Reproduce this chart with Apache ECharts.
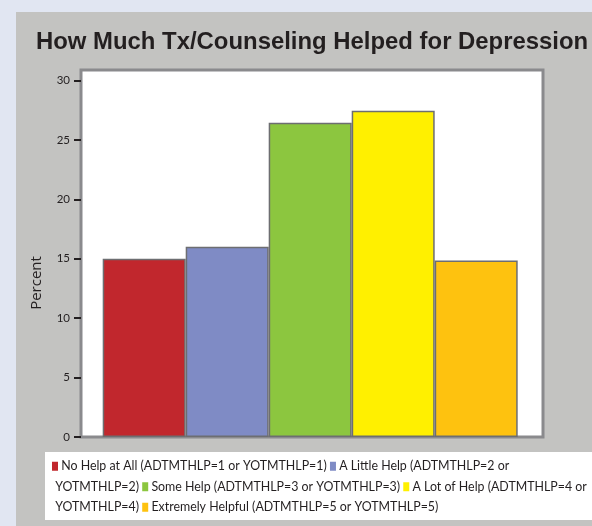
<!DOCTYPE html>
<html>
<head>
<meta charset="utf-8">
<script src="https://cdn.jsdelivr.net/npm/echarts@6/dist/echarts.min.js"></script>
<style>
html,body{margin:0;padding:0;background:#e1e6f2;}
#chart{width:592px;height:526px;}
</style>
</head>
<body>
<div id="chart"></div>
<script>
// ---- data ----
const titleText = "How Much Tx/Counseling Helped for Depression";
const yAxisName = "Percent";
const categories = [
  "No Help at All (ADTMTHLP=1 or YOTMTHLP=1)",
  "A Little Help (ADTMTHLP=2 or YOTMTHLP=2)",
  "Some Help (ADTMTHLP=3 or YOTMTHLP=3)",
  "A Lot of Help (ADTMTHLP=4 or YOTMTHLP=4)",
  "Extremely Helpful (ADTMTHLP=5 or YOTMTHLP=5)"
];
const percents = [15.0, 16.0, 26.45, 27.45, 14.85];
const yTicks = [0, 5, 10, 15, 20, 25, 30];
const barColors = ["#c1272d", "#7f8bc5", "#8cc63f", "#fff000", "#fec20f"];

// ---- chart ----
const chart = echarts.init(document.getElementById('chart'), null, {renderer: 'canvas'});

const FONT = "Lato";
const LEG_SIZE = 12.4;
const LEG_WIDTH = 540;
const MARK_W = 6;

// flow-wrap legend entries like an inline paragraph
const ctx = document.createElement('canvas').getContext('2d');
ctx.font = LEG_SIZE + 'px ' + FONT;
const rich = {t: {fontSize: LEG_SIZE, fontFamily: FONT, color: '#231f20', lineHeight: 20.5}};
const lines = [[]];
let cur = 0;
function pushText(s) {
  const line = lines[lines.length - 1];
  const last = line[line.length - 1];
  if (last && last.type === 't') last.s += s; else line.push({type: 't', s: s});
}
categories.forEach((c, i) => {
  rich['m' + i] = {width: MARK_W, height: 9, backgroundColor: barColors[i]};
  const words = c.split(' ');
  const firstW = MARK_W + ctx.measureText(' ' + words[0]).width;
  if (cur > 0 && cur + firstW > LEG_WIDTH) { lines.push([]); cur = 0; }
  lines[lines.length - 1].push({type: 'm', i: i});
  pushText(' ' + words[0]);
  cur += firstW;
  for (let k = 1; k < words.length; k++) {
    const w = ctx.measureText(' ' + words[k]).width;
    if (cur + w > LEG_WIDTH) { lines.push([]); cur = 0; }
    pushText(' ' + words[k]);
    cur += w;
  }
  pushText(' ');
  cur += ctx.measureText(' ').width;
});
const legendStr = lines.map(line => line.map(tk =>
  tk.type === 'm' ? '{m' + tk.i + '|}' : '{t|' + tk.s + '}'
).join('')).join('\n');

const option = {
  backgroundColor: '#e1e6f2',
  animation: false,
  title: {
    text: titleText,
    left: 36,
    top: 30,
    padding: 0,
    textStyle: {fontFamily: 'Liberation Sans', fontWeight: 'bold', fontSize: 23.9, color: '#231f20'}
  },
  graphic: [
    {type: 'rect', z: -10, silent: true, shape: {x: 16, y: 12, width: 600, height: 600}, style: {fill: '#c3c3c1'}},
    {type: 'rect', z: -9, silent: true, shape: {x: 45, y: 452, width: 560, height: 68}, style: {fill: '#ffffff'}},
    {type: 'text', z: 5, silent: true, x: 37, y: 283, rotation: Math.PI / 2,
      style: {text: yAxisName, fontFamily: 'Open Sans', fontSize: 15, fill: '#231f20', align: 'center', verticalAlign: 'middle'}},
    {type: 'text', z: 5, silent: true, x: 52, y: 456,
      style: {text: legendStr, rich: rich, lineHeight: 20.5,
        fontFamily: FONT, fontSize: LEG_SIZE, fill: '#231f20'}}
  ],
  grid: [
    {left: 81, right: 49, top: 70, bottom: 89, show: true, backgroundColor: '#ffffff', borderColor: '#8a8a8d', borderWidth: 3},
    {left: 102.7, right: 74.3, top: 80.5, bottom: 89}
  ],
  xAxis: [
    {gridIndex: 0, type: 'category', data: categories, show: false},
    {gridIndex: 1, type: 'category', data: categories, show: false}
  ],
  yAxis: [
    {gridIndex: 0, type: 'value', min: 0, max: 30, show: false},
    {gridIndex: 1, type: 'value', min: 0, max: 30, interval: 5, offset: 21.7,
      axisLine: {show: false},
      axisTick: {show: true, length: 7, lineStyle: {color: '#231f20', width: 2}},
      splitLine: {show: false},
      axisLabel: {margin: 11, fontFamily: FONT, fontSize: 11.5, color: '#231f20',
        formatter: v => (yTicks.indexOf(v) >= 0 ? String(v) : '')}
    }
  ],
  series: [{
    type: 'bar',
    xAxisIndex: 1,
    yAxisIndex: 1,
    barWidth: '100%',
    data: percents.map((v, i) => ({value: v, itemStyle: {color: barColors[i]}})),
    itemStyle: {borderColor: '#6d6e71', borderWidth: 1.5}
  }]
};
chart.setOption(option);
</script>
</body>
</html>
